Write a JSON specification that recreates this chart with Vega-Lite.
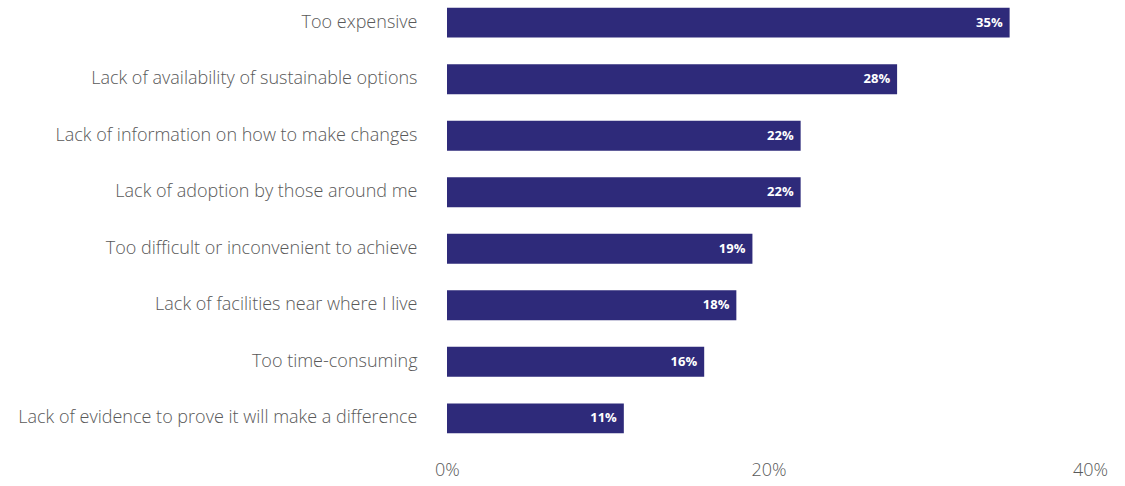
{
  "$schema": "https://vega.github.io/schema/vega-lite/v6.json",
  "width": 643,
  "height": 437,
  "autosize": {"type": "none"},
  "padding": {"left": 447, "top": 2, "right": 35, "bottom": 47},
  "background": "white",
  "config": {"view": {"stroke": null}, "font": "Open Sans"},
  "data": {"values": [
    {"reason": "Too expensive", "value": 35},
    {"reason": "Lack of availability of sustainable options", "value": 28},
    {"reason": "Lack of information on how to make changes", "value": 22},
    {"reason": "Lack of adoption by those around me", "value": 22},
    {"reason": "Too difficult or inconvenient to achieve", "value": 19},
    {"reason": "Lack of facilities near where I live", "value": 18},
    {"reason": "Too time-consuming", "value": 16},
    {"reason": "Lack of evidence to prove it will make a difference", "value": 11}
  ]},
  "encoding": {
    "y": {"field": "reason", "type": "nominal", "sort": null,
      "scale": {"paddingInner": 0.47, "paddingOuter": 0.1},
      "axis": {"title": null, "domain": false, "ticks": false, "labelPadding": 30, "labelFontSize": 18, "labelFontWeight": 300, "labelColor": "#595959", "labelLimit": 500}},
    "x": {"field": "value", "type": "quantitative",
      "scale": {"domain": [0, 40], "nice": false},
      "axis": {"title": null, "values": [0, 20, 40], "labelExpr": "datum.value + '%'", "domain": false, "ticks": false, "grid": false, "labelPadding": 22, "labelFontSize": 18, "labelFontWeight": 300, "labelColor": "#595959", "labelFlush": false}}
  },
  "layer": [
    {"mark": {"type": "bar", "color": "#2e2a7a"}},
    {"mark": {"type": "text", "align": "right", "dx": -7, "color": "white", "fontWeight": "bold", "fontSize": 13, "text": {"expr": "datum.value + '%'"}}}
  ]
}
